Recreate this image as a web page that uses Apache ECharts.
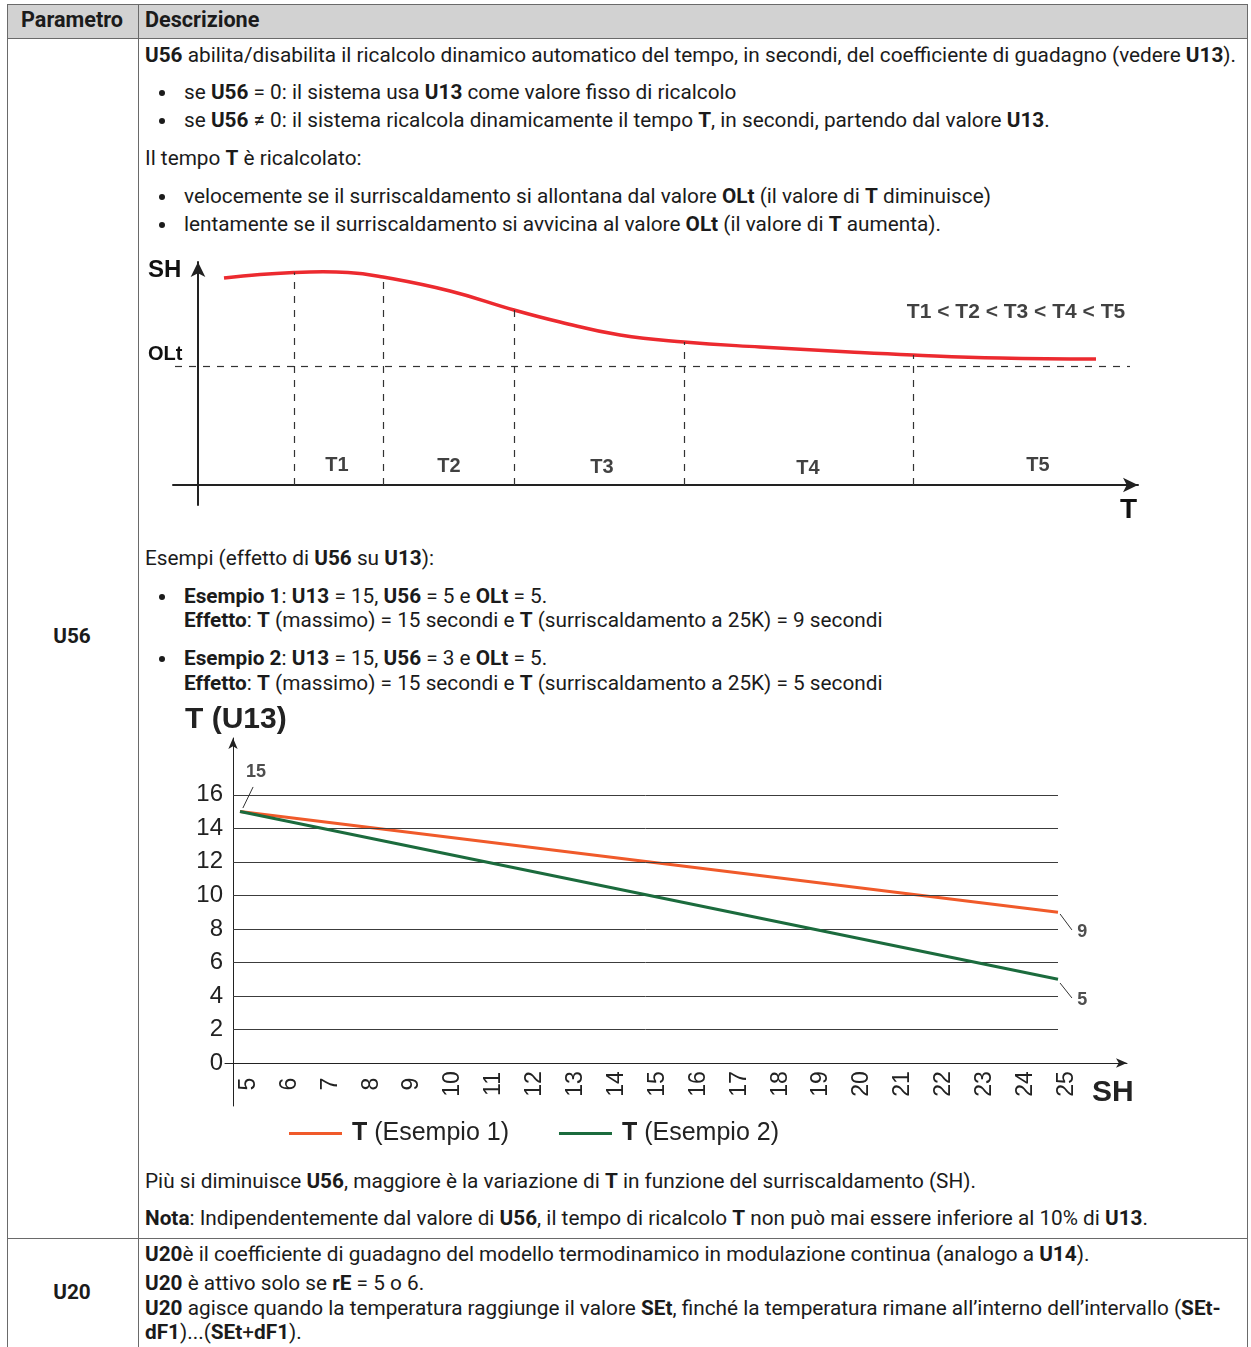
<!DOCTYPE html>
<html><head><meta charset="utf-8">
<script src="https://cdn.jsdelivr.net/npm/echarts@6/dist/echarts.min.js"></script>
<style>
html,body{margin:0;padding:0;background:#fff;}
body{width:1251px;height:1347px;position:relative;overflow:hidden;font-family:Roboto,"Liberation Sans",Arial,sans-serif;color:#1b1b1b;}
.t{position:absolute;white-space:nowrap;font-size:19px;line-height:24px;}
.c{transform:translateX(-50%);}
.hl{position:absolute;background:#6a6a6a;}
.bu{position:absolute;width:6px;height:6px;border-radius:50%;background:#1b1b1b;left:159px;}
#chart{position:absolute;left:0;top:0;width:1251px;height:1347px;z-index:2;}
</style></head>
<body>
<div style="position:absolute;left:7px;top:4px;width:1241px;height:34px;background:#d2d2d2;"></div>
<div class="hl" style="left:7px;top:4px;width:1241px;height:1px"></div>
<div class="hl" style="left:7px;top:38px;width:1241px;height:1px"></div>
<div class="hl" style="left:7px;top:1238px;width:1241px;height:1px"></div>
<div class="hl" style="left:7px;top:4px;width:1px;height:1343px"></div>
<div class="hl" style="left:138px;top:4px;width:1px;height:1343px"></div>
<div class="hl" style="left:1247px;top:4px;width:1px;height:1343px"></div>

<div class="t c" style="left:72px;top:8px;font-weight:bold" data-fs="1.04">Parametro</div>
<div class="t" style="left:145px;top:8px;font-weight:bold" data-fs="1.04">Descrizione</div>
<div class="t c" style="left:72px;top:624px"><b>U56</b></div>
<div class="t c" style="left:72px;top:1280px"><b>U20</b></div>

<div class="t" id="ref" style="left:145px;top:43px"><b>U56</b> abilita/disabilita il ricalcolo dinamico automatico del tempo, in secondi, del coefficiente di guadagno (vedere <b>U13</b>).</div>
<div class="bu" style="top:90px"></div>
<div class="t" style="left:184px;top:80px">se <b>U56</b> = 0: il sistema usa <b>U13</b> come valore fisso di ricalcolo</div>
<div class="bu" style="top:118px"></div>
<div class="t" style="left:184px;top:108px">se <b>U56</b> ≠ 0: il sistema ricalcola dinamicamente il tempo <b>T</b>, in secondi, partendo dal valore <b>U13</b>.</div>
<div class="t" style="left:145px;top:146px">Il tempo <b>T</b> è ricalcolato:</div>
<div class="bu" style="top:194px"></div>
<div class="t" style="left:184px;top:184px">velocemente se il surriscaldamento si allontana dal valore <b>OLt</b> (il valore di <b>T</b> diminuisce)</div>
<div class="bu" style="top:222px"></div>
<div class="t" style="left:184px;top:212px">lentamente se il surriscaldamento si avvicina al valore <b>OLt</b> (il valore di <b>T</b> aumenta).</div>

<div class="t" style="left:145px;top:546px">Esempi (effetto di <b>U56</b> su <b>U13</b>):</div>
<div class="bu" style="top:594px"></div>
<div class="t" style="left:184px;top:584px"><b>Esempio 1</b>: <b>U13</b> = 15, <b>U56</b> = 5 e <b>OLt</b> = 5.</div>
<div class="t" style="left:184px;top:608px"><b>Effetto</b>: <b>T</b> (massimo) = 15 secondi e <b>T</b> (surriscaldamento a 25K) = 9 secondi</div>
<div class="bu" style="top:656px"></div>
<div class="t" style="left:184px;top:646px"><b>Esempio 2</b>: <b>U13</b> = 15, <b>U56</b> = 3 e <b>OLt</b> = 5.</div>
<div class="t" style="left:184px;top:671px"><b>Effetto</b>: <b>T</b> (massimo) = 15 secondi e <b>T</b> (surriscaldamento a 25K) = 5 secondi</div>

<div class="t" style="left:145px;top:1169px">Più si diminuisce <b>U56</b>, maggiore è la variazione di <b>T</b> in funzione del surriscaldamento (SH).</div>
<div class="t" style="left:145px;top:1206px"><b>Nota</b>: Indipendentemente dal valore di <b>U56</b>, il tempo di ricalcolo <b>T</b> non può mai essere inferiore al 10% di <b>U13</b>.</div>
<div class="t" style="left:145px;top:1242px"><b>U20</b>è il coefficiente di guadagno del modello termodinamico in modulazione continua (analogo a <b>U14</b>).</div>
<div class="t" style="left:145px;top:1271px"><b>U20</b> è attivo solo se <b>rE</b> = 5 o 6.</div>
<div class="t" style="left:145px;top:1296px"><b>U20</b> agisce quando la temperatura raggiunge il valore <b>SEt</b>, finché la temperatura rimane all’interno dell’intervallo (<b>SEt-</b></div>
<div class="t" style="left:145px;top:1320px"><b>dF1</b>)...(<b>SEt</b>+<b>dF1</b>).</div>

<div id="chart"></div>
<script>
// ---------- Chart 1: SH vs time (qualitative) ----------
const shCurveTime  = [26, 62, 96, 125, 150, 185, 252, 316, 362, 422, 486, 562, 652, 715, 802, 898];
const shCurveValue = [207, 210.5, 212.5, 213.2, 212.6, 208, 194, 175, 163, 150, 143, 138, 133, 130, 127, 126];
const periodBoundTime  = [96, 185, 316, 486, 715];
const periodBoundValue = [212.5, 208, 175, 143, 130];
const periodLabels    = ['T1', 'T2', 'T3', 'T4', 'T5'];
const periodLabelTime = [139, 251, 404, 610, 840];
const periodLabelLevel = [20, 19, 18, 17, 20];
const oltLevel = 119;
const orderText = 'T1 < T2 < T3 < T4 < T5';

// ---------- Chart 2: T (U13) vs SH ----------
const shPoints  = [5, 25];
const example1T = [15, 9];
const example2T = [15, 5];
const example1Name = 'T (Esempio 1)';
const example2Name = 'T (Esempio 2)';
const yTickValues = [0, 2, 4, 6, 8, 10, 12, 14, 16];
const xTickValues = [5, 6, 7, 8, 9, 10, 11, 12, 13, 14, 15, 16, 17, 18, 19, 20, 21, 22, 23, 24, 25];

// fit body text font size to reference width
(function(){
  const ref = document.getElementById('ref');
  const w = ref.getBoundingClientRect().width;
  const s = 19 * 1092 / w;
  document.querySelectorAll('.t').forEach(e => {
    const k = parseFloat(e.getAttribute('data-fs') || '1');
    e.style.fontSize = (s * k).toFixed(2) + 'px';
  });
})();

const FONT = '"Liberation Sans", Arial, sans-serif';
const chart = echarts.init(document.getElementById('chart'), null, {renderer: 'canvas'});

const plainAxis = {
  axisTick: {show: false}, axisLabel: {show: false}, splitLine: {show: false}
};

const curveData = shCurveTime.map((t, i) => [t, shCurveValue[i]]);
const boundLines = periodBoundTime.map((t, i) => [{coord: [t, 0]}, {coord: [t, periodBoundValue[i]]}]);
boundLines.push([{coord: [-23, oltLevel]}, {coord: [932, oltLevel]}]);

const gridLines = yTickValues.filter(v => v > 0).map(v => [{coord: [4.83, v]}, {coord: [25, v]}]);

chart.setOption({
  animation: false,
  textStyle: {fontFamily: FONT},
  grid: [
    {left: 173, top: 262, width: 965, height: 243},
    {left: 225, top: 738, width: 902, height: 368}
  ],
  xAxis: [
    Object.assign({gridIndex: 0, type: 'value', min: -25, max: 940,
      axisLine: {onZero: true, lineStyle: {color: '#222', width: 2}, symbol: ['none', 'arrow'], symbolSize: [11, 15]}}, plainAxis),
    {gridIndex: 1, type: 'value', min: 4.633, max: 26.687, offset: -43,
      axisLine: {onZero: false, lineStyle: {color: '#222', width: 1}, symbol: ['none', 'arrow'], symbolSize: [7, 11]},
      axisTick: {show: false}, splitLine: {show: false},
      axisLabel: {customValues: xTickValues, rotate: 90, align: 'center', verticalAlign: 'top', lineHeight: 17, margin: 21,
        fontSize: 23, color: '#222', fontFamily: FONT}}
  ],
  yAxis: [
    Object.assign({gridIndex: 0, type: 'value', min: -20, max: 223,
      axisLine: {onZero: true, lineStyle: {color: '#222', width: 2}, symbol: ['none', 'arrow'], symbolSize: [11, 15]}}, plainAxis),
    {gridIndex: 1, type: 'value', min: -2.566, max: 19.39, offset: -8,
      axisLine: {onZero: false, lineStyle: {color: '#222', width: 1}, symbol: ['none', 'arrow'], symbolSize: [7, 11]},
      axisTick: {show: false}, splitLine: {show: false},
      axisLabel: {customValues: yTickValues, margin: 10, fontSize: 24, color: '#222', fontFamily: FONT}}
  ],
  legend: {
    data: [example1Name, example2Name],
    left: 284, top: 1116, itemWidth: 53, itemHeight: 3, itemGap: 50, icon: 'rect',
    textStyle: {fontSize: 25, color: '#222', fontFamily: FONT, padding: [0, 0, 0, 5],
      rich: {b: {fontWeight: 'bold', fontSize: 25, color: '#222', fontFamily: FONT}}},
    formatter: n => n.replace(/^T /, '{b|T} ')
  },
  series: [
    {type: 'line', xAxisIndex: 0, yAxisIndex: 0, data: curveData, smooth: 0.45, symbol: 'none',
      lineStyle: {color: '#ec2a2f', width: 3.5}, z: 3,
      markLine: {silent: true, symbol: 'none', label: {show: false},
        lineStyle: {color: '#333', width: 1.2, type: [7, 7]}, data: boundLines}},
    {type: 'scatter', xAxisIndex: 0, yAxisIndex: 0, symbolSize: 0, silent: true,
      label: {show: true, position: 'inside', formatter: p => p.name, fontSize: 20, fontWeight: 'bold', color: '#111', fontFamily: FONT},
      data: periodLabels.map((n, i) => ({name: n, value: [periodLabelTime[i], periodLabelLevel[i]]}))
        .concat([{name: orderText, value: [818, 173], label: {fontSize: 21}}])},
    {type: 'line', name: 'grid', xAxisIndex: 1, yAxisIndex: 1, data: [], silent: true,
      markLine: {silent: true, symbol: 'none', label: {show: false}, animation: false,
        lineStyle: {color: '#3c3c3c', width: 1, type: 'solid'}, data: gridLines}},
    {type: 'line', name: example1Name, xAxisIndex: 1, yAxisIndex: 1, symbol: 'none',
      data: shPoints.map((x, i) => [x, example1T[i]]), lineStyle: {color: '#f05a2a', width: 3}, itemStyle: {color: '#f05a2a'}, z: 4},
    {type: 'line', name: example2Name, xAxisIndex: 1, yAxisIndex: 1, symbol: 'none',
      data: shPoints.map((x, i) => [x, example2T[i]]), lineStyle: {color: '#1b6b3d', width: 3}, itemStyle: {color: '#1b6b3d'}, z: 5},
    {type: 'line', name: 'leaders', xAxisIndex: 1, yAxisIndex: 1, data: [], silent: true,
      markLine: {silent: true, symbol: 'none', label: {show: false},
        lineStyle: {color: '#333', width: 1, type: 'solid'},
        data: [
          [{coord: [5.07, 15.21]}, {coord: [5.32, 16.47]}],
          [{coord: [25.05, 8.89]}, {coord: [25.34, 7.94]}],
          [{coord: [25.05, 4.77]}, {coord: [25.34, 3.88]}]
        ]}},
    {type: 'scatter', xAxisIndex: 1, yAxisIndex: 1, symbolSize: 0, silent: true, clip: false,
      label: {show: true, position: 'inside', formatter: p => p.name, fontSize: 18, fontWeight: 'bold', color: '#222', fontFamily: FONT},
      data: [
        {name: String(example1T[0]), value: [5.39, 17.36]},
        {name: String(example1T[1]), value: [25.59, 7.82]},
        {name: String(example2T[1]), value: [25.59, 3.76]}
      ]}
  ],
  graphic: [
    {type: 'text', left: 148, top: 258, style: {text: 'SH', font: 'bold 24px ' + FONT, fill: '#111'}},
    {type: 'text', left: 148, top: 344, style: {text: 'OLt', font: 'bold 20px ' + FONT, fill: '#111'}},
    {type: 'text', left: 1120, top: 496, style: {text: 'T', font: 'bold 28px ' + FONT, fill: '#111'}},
    {type: 'text', left: 185, top: 705, style: {text: 'T (U13)', font: 'bold 30px ' + FONT, fill: '#222'}},
    {type: 'text', left: 1092, top: 1078, style: {text: 'SH', font: 'bold 30px ' + FONT, fill: '#222'}}
  ]
});
</script>
</body></html>
